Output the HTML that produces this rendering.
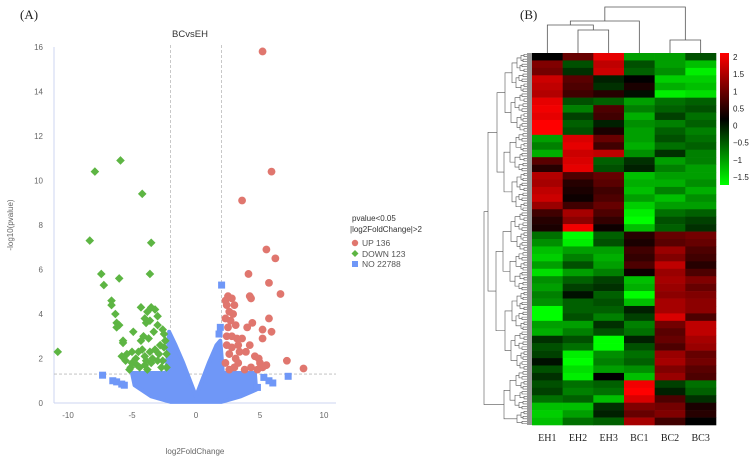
<!DOCTYPE html>
<html><head><meta charset="utf-8"><style>
body{margin:0;background:#fff;}
svg{display:block;font-family:"Liberation Sans",sans-serif;}
</style></head><body>
<svg id="fig" width="754" height="460" viewBox="0 0 754 460">
<text x="20" y="19" font-family="Liberation Serif,serif" font-size="13" fill="#222">(A)</text>
<text x="520" y="19" font-family="Liberation Serif,serif" font-size="13" fill="#222">(B)</text>
<g id="volcano"></g>
<g id="heat"></g>
</svg>
<script>
const NS="http://www.w3.org/2000/svg";
function mk(p,t,a){const e=document.createElementNS(NS,t);for(const k in a)e.setAttribute(k,a[k]);p.appendChild(e);return e;}

/* ---------- volcano data ---------- */
const xTicks=[-10,-5,0,5,10];
const yTicks=[0,2,4,6,8,10,12,14,16];
const upPoints=[[5.2,15.8],[5.9,10.4],[3.6,9.1],[5.5,6.9],[6.2,6.5],[4.1,5.8],[5.7,5.4],[6.6,4.9],[4.2,4.8],[4.3,4.7],[2.3,4.6],[2.5,4.8],[2.8,4.7],[2.4,4.4],[3.0,4.4],[2.6,4.1],[2.3,3.8],[2.7,3.7],[3.1,3.5],[4.0,3.4],[4.4,3.6],[5.7,3.8],[5.2,3.3],[5.9,3.2],[5.2,2.9],[2.4,3.0],[2.8,3.0],[3.2,2.9],[3.6,2.9],[2.4,2.6],[2.8,2.5],[3.3,2.6],[2.6,2.2],[3.1,2.0],[3.4,2.3],[3.9,2.3],[4.2,2.6],[4.6,2.1],[4.9,2.0],[5.0,1.8],[5.2,1.6],[3.3,1.8],[2.6,1.5],[3.0,1.6],[3.8,1.5],[4.3,1.6],[5.5,1.7],[7.1,1.9],[8.4,1.55],[4.8,1.5],[2.3,1.8],[2.5,3.4],[2.9,4.0]];
const downPoints=[[-10.8,2.3],[-7.9,10.4],[-5.9,10.9],[-4.2,9.4],[-8.3,7.3],[-3.5,7.2],[-7.4,5.8],[-6.0,5.6],[-3.6,5.8],[-7.2,5.3],[-6.6,4.6],[-6.6,4.4],[-6.3,4.0],[-6.2,3.6],[-6.0,3.5],[-6.2,3.4],[-5.7,2.8],[-5.7,2.7],[-4.9,3.2],[-4.3,4.3],[-4.0,3.8],[-3.8,4.1],[-3.5,4.3],[-3.2,4.2],[-3.0,3.9],[-3.9,3.6],[-3.6,3.7],[-3.3,3.2],[-3.0,3.5],[-4.1,3.0],[-4.3,2.8],[-3.7,2.9],[-2.6,3.3],[-2.5,3.1],[-2.4,2.8],[-2.5,2.5],[-2.8,2.6],[-3.2,2.4],[-3.6,2.3],[-4.0,2.1],[-4.5,2.3],[-5.0,2.3],[-5.4,2.2],[-5.8,2.1],[-5.5,1.9],[-5.0,1.8],[-4.6,1.7],[-4.0,1.7],[-3.5,1.8],[-3.0,1.9],[-2.6,1.9],[-2.3,2.2],[-2.3,1.6],[-3.8,1.5],[-4.4,1.6],[-5.2,1.5],[-4.7,2.0],[-3.4,2.0],[-2.9,2.2],[-2.7,1.6],[-5.1,1.6],[-4.2,2.4],[-3.9,1.9]];
const noPoints=[[-7.3,1.25],[-6.5,1.0],[-6.2,0.95],[-5.8,0.85],[-5.6,0.8],[2.0,5.3],[1.8,3.1],[1.9,3.4],[5.3,1.15],[5.7,1.0],[6.0,0.9],[7.2,1.2],[4.8,0.7]];
const noCloud=[[-5.0,1.35],[-2.3,1.35],[-2.1,3.2],[-1.6,2.6],[-1.0,1.8],[-0.4,0.9],[0,0.3],[0.4,0.9],[1.0,1.8],[1.6,2.6],[1.9,2.8],[2.1,1.35],[4.6,1.35],[4.7,0.6],[3.5,0.3],[2,0.05],[-2,0.05],[-3.5,0.3],[-4.8,0.8]];

const X=v=>196+v*12.8, Y=v=>403-v*22.25;
const V=document.getElementById('volcano');
mk(V,'line',{x1:54,y1:47,x2:54,y2:403,stroke:'#cdd6f0','stroke-width':1});
mk(V,'line',{x1:54,y1:403,x2:336,y2:403,stroke:'#cdd6f0','stroke-width':1});
yTicks.forEach(t=>{const e=mk(V,'text',{x:43,y:Y(t)+3,'text-anchor':'end','font-size':8,fill:'#666'});e.textContent=t;

});
xTicks.forEach(t=>{const e=mk(V,'text',{x:X(t),y:418,'text-anchor':'middle','font-size':8,fill:'#666'});e.textContent=t;

});
[[-2],[2]].forEach(([v])=>{const l=mk(V,'line',{x1:X(v),y1:45,x2:X(v),y2:403,stroke:'#bbb','stroke-dasharray':'3,2','stroke-width':0.8});

});
const hl=mk(V,'line',{x1:54,y1:Y(1.3),x2:336,y2:Y(1.3),stroke:'#bbb','stroke-dasharray':'3,2','stroke-width':0.8});


const cloud=mk(V,'polygon',{points:noCloud.map(p=>X(p[0])+','+Y(p[1])).join(' '),fill:'#6f97f7',stroke:'#6f97f7','stroke-width':4,'stroke-linejoin':'round'});


noPoints.forEach(p=>{const r=mk(V,'rect',{x:X(p[0])-3.5,y:Y(p[1])-3.5,width:7,height:7,fill:'#6f97f7'});

});
downPoints.forEach(p=>{const x=X(p[0]),y=Y(p[1]);const d=mk(V,'polygon',{points:`${x},${y-4.3} ${x+4.3},${y} ${x},${y+4.3} ${x-4.3},${y}`,fill:'#5db543'});

});
upPoints.forEach(p=>{const c=mk(V,'circle',{cx:X(p[0]),cy:Y(p[1]),r:3.9,fill:'#e0766e'});

});
function txt(p,x,y,s,a,name){const e=mk(p,'text',Object.assign({x:x,y:y},a));e.textContent=s;

return e;}
txt(V,190,37,'BCvsEH',{'text-anchor':'middle','font-size':9.5,fill:'#333'},'chart-title');
txt(V,195,454,'log2FoldChange',{'text-anchor':'middle','font-size':8,fill:'#666'},'x-axis-title');
txt(V,13,225,'-log10(pvalue)',{'text-anchor':'middle','font-size':8,fill:'#666',transform:'rotate(-90 13 225)'},'y-axis-title');
txt(V,352,221,'pvalue<0.05',{'font-size':8,fill:'#333'},'legend-title');
txt(V,350,232,'|log2FoldChange|>2',{'font-size':8,fill:'#333'},'legend-title-2');
const lg=mk(V,'circle',{cx:355,cy:243,r:3.2,fill:'#e0766e'});


const lg2=mk(V,'polygon',{points:'355,250 358.5,253.5 355,257 351.5,253.5',fill:'#5db543'});


const lg3=mk(V,'rect',{x:352,y:261,width:6,height:6,fill:'#6f97f7'});


txt(V,362,246,'UP 136',{'font-size':8.5,fill:'#555'},'legend-up');
txt(V,362,257,'DOWN 123',{'font-size':8.5,fill:'#555'},'legend-down');
txt(V,362,267,'NO 22788',{'font-size':8.5,fill:'#555'},'legend-no');

/* ---------- heatmap data ---------- */
const samples=['EH1','EH2','EH3','BC1','BC2','BC3'];
const rows=[
[0,0.8,1.8,-1,-1,-0.5],
[1.0,-0.5,1.5,-0.5,-1,-1.2],[0.9,-0.3,1.6,-0.6,-0.9,-1.5],
[1.6,0.7,-0.2,0,-1.3,-1.3],[1.5,0.6,-0.3,0.2,-1.1,-1.2],[1.4,0.5,0.3,-0.1,-1.5,-1.4],
[1.8,-0.5,-0.6,-1,-0.7,-0.6],[1.9,-0.8,0.6,-0.8,-0.6,-0.5],[1.8,-0.4,0.5,-1.1,-0.4,-0.7],[2,-0.6,-0.2,-0.9,-0.8,-0.6],[2,-0.5,0.2,-1,-0.6,-0.8],
[-1,1.7,0.8,-1,-0.5,-0.7],[-0.8,1.8,0.5,-1.1,-0.7,-0.6],[-1.1,1.6,1.5,-0.9,-0.3,-0.8],
[0.7,1.7,-0.6,-0.3,-1,-0.8],[0.3,1.8,-0.5,-0.2,-0.8,-1],
[1.4,0.6,0.8,-1.2,-1,-1],[1.3,0.3,0.7,-1.1,-1.1,-0.9],[1.5,0.2,0.5,-1.2,-0.8,-1.1],[1.6,0.1,0.6,-1.0,-1.2,-0.9],[1.2,0.5,0.8,-1.3,-1,-1],
[0.5,1.3,0.6,-1.5,-0.7,-0.6],[0.3,1.1,0.4,-1.6,-0.5,-0.4],[0.2,1.9,0.1,-1.2,-0.6,-0.3],
[-0.7,-1.6,-0.6,0.3,0.8,0.9],[-0.9,-1.5,-0.5,0.2,0.7,0.8],
[-1.2,-1,-1,0.5,1.2,0.6],[-1.3,-0.8,-1.1,0.4,1.0,0.5],[-1.0,-0.5,-1.0,0.6,1.5,0.3],[-1.4,-1,-0.8,0.1,1.2,0.6],
[-0.9,-0.6,-0.4,-1.2,1.3,1.0],[-1.0,-0.4,-0.3,-1.1,1.2,0.8],[-0.8,-0.1,-0.6,-1.6,1.1,1.0],[-0.9,-0.6,-0.5,-1.2,1.3,1.1],
[-1.6,-0.6,-0.6,-0.2,1.3,1.1],[-1.6,-0.5,-0.8,-0.4,1.7,0.6],
[-1,-1,-0.3,-0.8,0.9,1.5],[-1.1,-0.8,-0.5,-0.7,0.7,1.5],
[-0.3,-0.5,-1.6,-0.2,0.8,1.3],[-0.5,-0.7,-1.7,-0.5,0.6,1.2],
[-0.4,-1.5,-0.9,-0.7,1.2,0.8],[-0.1,-1.6,-0.8,-0.6,1.3,0.9],[-0.5,-1.4,-1.0,-0.9,1.0,0.7],[-0.3,-1.5,0,-1.2,1.2,0.6],
[-0.5,-0.7,-0.6,1.9,-0.4,-0.7],[-0.4,-0.8,-0.7,2,-0.2,-0.6],[-0.7,-0.6,-1.2,1.7,0.6,-0.3],
[-1.2,-1.2,-0.3,1.0,0.9,0.2],[-1.3,-1.0,-0.2,0.8,1.0,0.3],[-1.2,-0.7,-0.6,1.3,0.5,0]
];
const colorbarTicks=[2,1.5,1,0.5,0,-0.5,-1,-1.5];
const colMergeHeights=[[1,2,30],[0,'a',25],[4,5,40],[3,'b',21],['c','d',7]];

const H=document.getElementById('heat');
const hx=532,hy=53,hw=184,hh=372,cw=hw/6,rh=hh/rows.length;
function col(v){if(v>=0){const r=Math.round(Math.min(1,v/2)*255);return `rgb(${r},0,0)`;}const g=Math.round(Math.min(1,-v/1.6)*255);return `rgb(0,${g},0)`;}
rows.forEach((r,i)=>r.forEach((v,j)=>{const c=mk(H,'rect',{x:hx+j*cw,y:hy+i*rh,width:cw+0.3,height:rh+0.3,fill:col(v)});

}));
samples.forEach((s,j)=>txt(H,hx+j*cw+cw/2,441,s,{'text-anchor':'middle','font-size':10,'font-family':'Liberation Serif,serif',fill:'#222'},'sample-label'));
// colorbar
const cbTop=53,cbBot=185,cbX=720;
const grad=mk(mk(H,'defs',{}),'linearGradient',{id:'cb',x1:0,y1:0,x2:0,y2:1});
[[0,'#ff0000'],[0.5,'#000'],[1,'#00ff00']].forEach(s=>mk(grad,'stop',{offset:s[0],'stop-color':s[1]}));
const cb=mk(H,'rect',{x:cbX,y:cbTop,width:9,height:cbBot-cbTop,fill:'url(#cb)'});


const cbY=v=>cbTop+4+(2-v)*( (cbBot-8-cbTop-4)/3.5 );
colorbarTicks.forEach(t=>txt(H,733,cbY(t)+3,t===0?'0':(t<0?'\u2212'+(-t):t),{'font-size':8,fill:'#222'},'colorbar-tick'));
// column dendrogram
const cx=j=>hx+j*cw+cw/2;
const pos={},ht={};
for(let j=0;j<6;j++){pos[j]=cx(j);ht[j]=hy;}
const names=['a','b','c','d','e'];
colMergeHeights.forEach((m,k)=>{const [l,r,yy]=m;const a=pos[l],b=pos[r];
const p=mk(H,'path',{d:`M${a},${ht[l]} V${yy} H${b} V${ht[r]}`,fill:'none',stroke:'#555','stroke-width':0.8});


pos[names[k]]=(a+b)/2;ht[names[k]]=yy;});
// row dendrogram (structure: adjacent merges, finer leaves)
const gb=mk(H,'rect',{x:527,y:hy,width:5,height:hh,fill:'#999'});


const nLeaves=rows.length*3;
let level=[];for(let i=0;i<nLeaves;i++)level.push({y:hy+(i+0.5)*hh/nLeaves,x:527});
const levelX=[524,521,517,512,505,497,488,484];
let li=0;
while(level.length>1){const nx=[];const X0=levelX[Math.min(li,levelX.length-1)];
for(let i=0;i<level.length;i+=2){if(i+1<level.length){const a=level[i],b=level[i+1];const xx=Math.max(484,X0-((i/2)%3));
const p=mk(H,'path',{d:`M${a.x},${a.y} H${xx} V${b.y} H${b.x}`,fill:'none',stroke:'#555','stroke-width':0.6});


nx.push({x:xx,y:(a.y+b.y)/2});}else nx.push(level[i]);}
level=nx;li++;}
</script>
</body></html>
